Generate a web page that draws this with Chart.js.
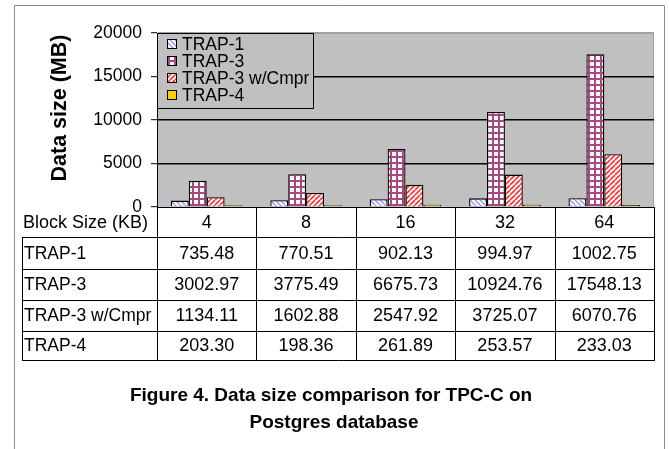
<!DOCTYPE html>
<html>
<head>
<meta charset="utf-8">
<script src="https://cdn.jsdelivr.net/npm/chart.js@4.4.1/dist/chart.umd.min.js"></script>
<style>
  html, body { margin: 0; padding: 0; background: #fff; }
  #c { display: block; width: 669px; height: 449px; }
</style>
</head>
<body>
<canvas id="c" width="669" height="449"></canvas>
<script>
// Block sizes (KB) and data size (MB) for each storage scheme
const blockSizes = ['4', '8', '16', '32', '64'];
const trap1 = [735.48, 770.51, 902.13, 994.97, 1002.75];
const trap3 = [3002.97, 3775.49, 6675.73, 10924.76, 17548.13];
const trap3Cmpr = [1134.11, 1602.88, 2547.92, 3725.07, 6070.76];
const trap4 = [203.30, 198.36, 261.89, 253.57, 233.03];
const seriesNames = ['TRAP-1', 'TRAP-3', 'TRAP-3 w/Cmpr', 'TRAP-4'];
const yTickValues = [0, 5000, 10000, 15000, 20000];

const FONT = '"Liberation Sans", Arial, sans-serif';

// Fill patterns for the bars
function makePattern(size, draw) {
  const c = document.createElement('canvas');
  c.width = size; c.height = size;
  const g = c.getContext('2d');
  g.fillStyle = '#fff';
  g.fillRect(0, 0, size, size);
  draw(g, size);
  return g.createPattern(c, 'repeat');
}
const ctxMain = document.getElementById('c').getContext('2d');
function diag(color, back, width) {
  return makePattern(5, (g, s) => {
    g.strokeStyle = color; g.lineWidth = width;
    for (let k = -1; k <= 1; k++) {
      g.beginPath();
      if (back) { g.moveTo(k * s, 0); g.lineTo(k * s + s, s); }
      else { g.moveTo(k * s, s); g.lineTo(k * s + s, 0); }
      g.stroke();
    }
  });
}
const patTrap1 = diag('#8f8fff', true, 1.3);
const patTrap3Cmpr = diag('#ff3030', false, 1.6);
const patTrap3 = makePattern(6, (g, s) => {
  g.fillStyle = '#a8487c';
  g.fillRect(0, 0, s, 2);
  g.fillRect(0, 0, 2, s);
});
const fills = [patTrap1, patTrap3, patTrap3Cmpr, '#ffcc00'];
const seriesData = [trap1, trap3, trap3Cmpr, trap4];

const frameAndTable = {
  id: 'frameAndTable',
  beforeDraw(chart) {
    const { ctx, chartArea: a } = chart;
    ctx.save();
    ctx.fillStyle = '#fff';
    ctx.fillRect(0, 0, chart.width, chart.height);
    // outer figure frame
    ctx.strokeStyle = '#8c8c8c';
    ctx.lineWidth = 1;
    ctx.beginPath();
    ctx.moveTo(14.5, 449); ctx.lineTo(14.5, 5.5); ctx.lineTo(664.5, 5.5); ctx.lineTo(664.5, 449);
    ctx.stroke();
    // plot background
    ctx.fillStyle = '#c0c0c0';
    ctx.fillRect(a.left, a.top, a.right - a.left, a.bottom - a.top);
    ctx.strokeStyle = '#a0a0a0';
    ctx.beginPath();
    ctx.moveTo(a.left, a.top + 0.5); ctx.lineTo(a.right - 0.5, a.top + 0.5); ctx.lineTo(a.right - 0.5, a.bottom);
    ctx.stroke();
    ctx.restore();
  },
  afterDatasetsDraw(chart) {
    const { ctx, chartArea: a } = chart;
    ctx.save();
    // legend box inside the plot
    const lx = a.left, ly = a.top, lw = 157, lh = 76;
    ctx.fillStyle = '#c0c0c0';
    ctx.fillRect(lx, ly, lw, lh);
    ctx.strokeStyle = '#000';
    ctx.lineWidth = 1;
    ctx.strokeRect(lx + 0.5, ly + 0.5, lw - 1, lh - 1);
    ctx.font = '17.5px ' + FONT;
    ctx.textBaseline = 'middle';
    ctx.textAlign = 'left';
    seriesNames.forEach((name, i) => {
      const cy = ly + 11 + i * 17;
      ctx.fillStyle = fills[i];
      ctx.fillRect(lx + 10, cy - 5, 10, 10);
      ctx.strokeStyle = '#000';
      ctx.strokeRect(lx + 10.5, cy - 4.5, 9, 9);
      ctx.fillStyle = '#000';
      ctx.fillText(name, lx + 25, cy + 1);
    });
    ctx.restore();
  },
  afterDraw(chart) {
    const { ctx, chartArea: a } = chart;
    const xs = chart.scales.x;
    const step = xs.getPixelForValue(1) - xs.getPixelForValue(0);
    const edges = [];
    for (let i = 0; i < blockSizes.length; i++) edges.push(xs.getPixelForValue(i) - step / 2);
    edges.push(xs.getPixelForValue(blockSizes.length - 1) + step / 2);
    const rows = [a.bottom, 237, 269, 300, 331, 360];
    const tableLeft = 22;
    ctx.save();
    ctx.strokeStyle = '#000';
    ctx.lineWidth = 1;
    ctx.beginPath();
    // category axis line
    ctx.moveTo(a.left, Math.round(a.bottom) + 0.5);
    ctx.lineTo(a.right, Math.round(a.bottom) + 0.5);
    // horizontal rules of the data table
    for (let r = 1; r < rows.length; r++) {
      ctx.moveTo(tableLeft, rows[r] + 0.5);
      ctx.lineTo(Math.round(edges[edges.length - 1]) + 1, rows[r] + 0.5);
    }
    // column rules
    edges.forEach(x => {
      ctx.moveTo(Math.round(x) + 0.5, a.bottom);
      ctx.lineTo(Math.round(x) + 0.5, rows[rows.length - 1] + 1);
    });
    ctx.moveTo(tableLeft + 0.5, rows[1]);
    ctx.lineTo(tableLeft + 0.5, rows[rows.length - 1] + 1);
    ctx.stroke();

    ctx.fillStyle = '#000';
    ctx.font = '18px ' + FONT;
    ctx.textBaseline = 'middle';
    const mid = r => (rows[r] + rows[r + 1]) / 2 + 1;
    ctx.textAlign = 'left';
    ctx.fillText('Block Size (KB)', 23, mid(0));
    ctx.save();
    ctx.font = '17.5px ' + FONT;
    seriesNames.forEach((n, i) => ctx.fillText(n, 24, mid(i + 1)));
    ctx.restore();
    ctx.textAlign = 'center';
    blockSizes.forEach((b, j) => ctx.fillText(b, xs.getPixelForValue(j), mid(0)));
    seriesData.forEach((arr, i) => {
      arr.forEach((v, j) => ctx.fillText(v.toFixed(2), xs.getPixelForValue(j), mid(i + 1)));
    });

    // value axis title
    ctx.save();
    ctx.translate(60, 108);
    ctx.rotate(-Math.PI / 2);
    ctx.font = 'bold 21.5px ' + FONT;
    ctx.textAlign = 'center';
    ctx.fillText('Data size (MB)', 0, 0);
    ctx.restore();

    // figure caption
    ctx.font = 'bold 19px ' + FONT;
    ctx.textAlign = 'center';
    ctx.fillText('Figure 4. Data size comparison for TPC-C on', 331, 396);
    ctx.fillText('Postgres database', 334, 423);
    ctx.restore();
  }
};

new Chart(ctxMain, {
  type: 'bar',
  data: {
    labels: blockSizes,
    datasets: seriesNames.map((name, i) => ({
      label: name,
      data: seriesData[i],
      backgroundColor: fills[i],
      borderColor: '#000',
      borderWidth: 1.3,
      categoryPercentage: 0.72,
      barPercentage: 1.0
    }))
  },
  options: {
    responsive: false,
    animation: false,
    devicePixelRatio: 1,
    layout: { padding: { left: 0, top: 33, right: 15, bottom: 242 } },
    plugins: { legend: { display: false }, tooltip: { enabled: false }, title: { display: false } },
    scales: {
      x: { display: false, offset: true },
      y: {
        min: 0,
        max: 20000,
        afterFit(s) { s.width = 157; },
        afterBuildTicks(s) { s.ticks = yTickValues.map(v => ({ value: v })); },
        ticks: { color: '#000', padding: 9, font: { family: FONT, size: 17.5 }, callback: v => String(v) },
        grid: {
          color: c => c.tick && c.tick.value === 20000 ? '#a0a0a0' : (c.tick && c.tick.value === 0 ? 'rgba(0,0,0,0)' : '#000'),
          lineWidth: 1.4,
          drawTicks: true,
          tickLength: 6,
          tickColor: '#000',
          tickWidth: 1
        },
        border: { display: true, color: '#000', width: 1 }
      }
    }
  },
  plugins: [frameAndTable]
});
</script>
</body>
</html>
